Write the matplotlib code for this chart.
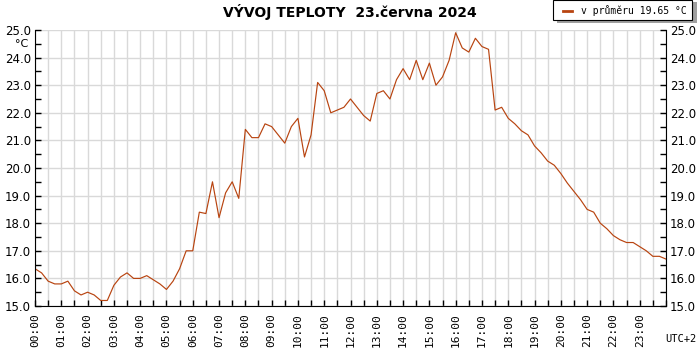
import numpy as np
import matplotlib
matplotlib.use("Agg")
import matplotlib.pyplot as plt
from matplotlib.ticker import MultipleLocator, FixedLocator

# 15 minute readings, 00:00 .. 24:00
temps = [16.35, 16.2, 15.9, 15.8, 15.8, 15.9, 15.55, 15.4,
         15.5, 15.4, 15.2, 15.2, 15.75, 16.05, 16.2, 16.0,
         16.0, 16.1, 15.95, 15.8, 15.6, 15.9, 16.35, 17.0,
         17.0, 18.4, 18.35, 19.5, 18.2, 19.1, 19.5, 18.9,
         21.4, 21.1, 21.1, 21.6, 21.5, 21.2, 20.9, 21.5,
         21.8, 20.4, 21.2, 23.1, 22.8, 22.0, 22.1, 22.2,
         22.5, 22.2, 21.9, 21.7, 22.7, 22.8, 22.5, 23.2,
         23.6, 23.2, 23.9, 23.2, 23.8, 23.0, 23.3, 23.9,
         24.9, 24.35, 24.2, 24.7, 24.4, 24.3, 22.1, 22.2,
         21.8, 21.6, 21.35, 21.2, 20.8, 20.55, 20.25, 20.1,
         19.8, 19.45, 19.15, 18.85, 18.5, 18.4, 18.0, 17.8,
         17.55, 17.4, 17.3, 17.3, 17.15, 17.0, 16.8, 16.8,
         16.7]
hours = np.arange(len(temps)) / 4.0
hour_labels = ["%02d:00" % h for h in range(24)]
title = "VÝVOJ TEPLOTY  23.června 2024"
legend_text = "v průměru 19.65 °C"

line_color = "#b84410"
grid_color = "#d9d9d9"

fig = plt.figure(figsize=(7, 3.5), dpi=100)
ax = fig.add_axes([35 / 700, 1 - 306 / 350, 631 / 700, 276 / 350])

ax.plot(hours, temps, color=line_color, lw=0.85)
ax.set_xlim(0, 24)
ax.set_ylim(15, 25)

ax.xaxis.set_major_locator(FixedLocator(range(24)))
ax.xaxis.set_minor_locator(MultipleLocator(0.5))
ax.set_xticklabels(hour_labels, rotation=90, fontsize=8,
                   family="DejaVu Sans Mono")
ax.yaxis.set_major_locator(MultipleLocator(1))
ax.yaxis.set_minor_locator(MultipleLocator(0.5))
ax.yaxis.set_major_formatter(matplotlib.ticker.FormatStrFormatter("%.1f"))

ax.tick_params(axis="both", which="both", direction="in", length=4,
               width=1, color="black")
ax.tick_params(axis="y", which="both", left=True, right=True,
               labelleft=True, labelright=True, labelsize=8.5, pad=3)
ax.tick_params(axis="x", which="both", top=False, pad=5)

ax.grid(True, which="major", axis="y", color=grid_color, lw=1)
ax.grid(True, which="both", axis="x", color=grid_color, lw=1)
ax.set_axisbelow(True)
ax.spines["top"].set_visible(False)

fig.text(0.5, 1 - 12 / 350, title, ha="center", va="center",
         fontsize=10, fontweight="bold")
fig.text(22 / 700, 1 - 44 / 350, "°C", ha="center", va="center", fontsize=8)
fig.text(681 / 700, 1 - 339 / 350, "UTC+2", ha="center", va="center",
         fontsize=7.5, family="DejaVu Sans Mono")

# legend box with shadow
shadow = plt.Rectangle((557 / 700, 1 - 23 / 350), 140 / 700, 21 / 350,
                       transform=fig.transFigure, facecolor="#a0a0a0",
                       edgecolor="none")
box = plt.Rectangle((553 / 700, 1 - 20 / 350), 139 / 700, 20 / 350,
                    transform=fig.transFigure, facecolor="white",
                    edgecolor="black", lw=0.8)
fig.add_artist(shadow)
fig.add_artist(box)
fig.add_artist(plt.Line2D([563 / 700, 572 / 700], [1 - 11 / 350] * 2,
                          transform=fig.transFigure, color=line_color, lw=2))
fig.text(581 / 700, 1 - 10.5 / 350, legend_text, ha="left", va="center",
         fontsize=7, family="DejaVu Sans Mono")

fig.savefig("out.png", dpi=100)
